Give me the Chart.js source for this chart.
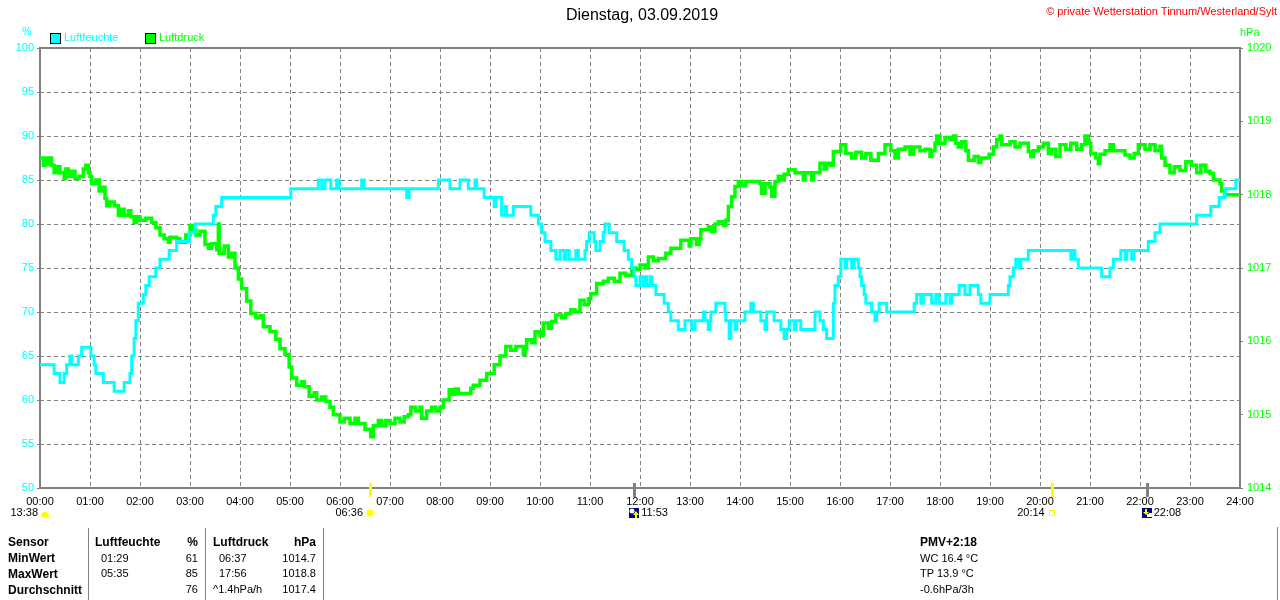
<!DOCTYPE html>
<html><head><meta charset="utf-8">
<script src="https://cdn.jsdelivr.net/npm/chart.js@4"></script>
<style>
body{margin:0;background:#fff;font-family:'Liberation Sans',Arial,sans-serif;}
#wrap{position:relative;width:1280px;height:600px;overflow:hidden;background:#fff;}
canvas{position:absolute;left:0;top:0;}
.t{position:absolute;white-space:nowrap;font-size:11px;line-height:13px;color:#000;}
.b{font-weight:bold;font-size:12px;line-height:14px;}
.r{text-align:right;}
.vl{position:absolute;width:1px;background:#808080;}
.box{position:absolute;width:9px;height:9px;border:1px solid #000;}
</style></head>
<body><div id="wrap">
<canvas id="c" width="1280" height="600"></canvas>
<div class="t" style="left:0;width:1284px;top:6px;text-align:center;font-size:16px;line-height:18px;">Dienstag, 03.09.2019</div>
<div class="t" style="right:3px;top:5px;color:#ff0000;">© private Wetterstation Tinnum/Westerland/Sylt</div>
<div class="t" style="left:22px;top:25px;color:#00ffff;">%</div>
<div class="t" style="left:1240px;top:26px;color:#00ff00;">hPa</div>
<div class="box" style="left:50px;top:33px;background:#00ffff;"></div>
<div class="t" style="left:64px;top:31px;color:#00ffff;">Luftfeuchte</div>
<div class="box" style="left:145px;top:33px;background:#00ff00;"></div>
<div class="t" style="left:159px;top:31px;color:#00ff00;">Luftdruck</div>

<div class="vl" style="left:88px;top:528px;height:72px;"></div>
<div class="vl" style="left:205px;top:528px;height:72px;"></div>
<div class="vl" style="left:323px;top:528px;height:72px;"></div>
<div class="vl" style="left:1277px;top:527px;height:73px;"></div>

<div class="t b" style="left:8px;top:535px;">Sensor</div>
<div class="t b" style="left:8px;top:551px;">MinWert</div>
<div class="t b" style="left:8px;top:567px;">MaxWert</div>
<div class="t b" style="left:8px;top:583px;">Durchschnitt</div>

<div class="t b" style="left:95px;top:535px;">Luftfeuchte</div>
<div class="t b r" style="left:160px;width:38px;top:535px;">%</div>
<div class="t" style="left:101px;top:552px;">01:29</div>
<div class="t r" style="left:160px;width:38px;top:552px;">61</div>
<div class="t" style="left:101px;top:567px;">05:35</div>
<div class="t r" style="left:160px;width:38px;top:567px;">85</div>
<div class="t r" style="left:160px;width:38px;top:583px;">76</div>

<div class="t b" style="left:213px;top:535px;">Luftdruck</div>
<div class="t b r" style="left:270px;width:46px;top:535px;">hPa</div>
<div class="t" style="left:219px;top:552px;">06:37</div>
<div class="t r" style="left:270px;width:46px;top:552px;">1014.7</div>
<div class="t" style="left:219px;top:567px;">17:56</div>
<div class="t r" style="left:270px;width:46px;top:567px;">1018.8</div>
<div class="t" style="left:213px;top:583px;">^1.4hPa/h</div>
<div class="t r" style="left:270px;width:46px;top:583px;">1017.4</div>

<div class="t b" style="left:920px;top:535px;">PMV+2:18</div>
<div class="t" style="left:920px;top:552px;">WC 16.4 °C</div>
<div class="t" style="left:920px;top:567px;">TP 13.9 °C</div>
<div class="t" style="left:920px;top:583px;">-0.6hPa/3h</div>
</div>
<script>
// Time in minutes since 00:00, humidity in %
const humMinutes = [0,17,24,29,32,36,38,46,50,61,65,67,76,89,101,108,110,113,115,118,124,127,131,139,144,155,164,179,186,208,211,218,301,334,338,342,349,356,359,386,389,440,443,478,492,504,514,522,524,533,545,547,554,558,560,568,589,598,602,606,613,619,624,629,631,635,643,646,654,656,659,665,667,672,676,678,683,692,701,706,710,713,715,720,724,726,728,732,734,739,749,754,757,766,774,782,786,796,798,802,804,805,811,822,823,827,829,834,836,846,853,856,865,870,872,881,889,893,896,899,905,907,913,930,936,940,944,952,954,958,961,966,968,974,977,982,984,986,989,991,998,1002,1004,1007,1016,1049,1052,1057,1060,1070,1075,1079,1087,1092,1094,1103,1110,1116,1126,1129,1140,1162,1164,1168,1171,1175,1177,1186,1237,1240,1242,1246,1274,1284,1288,1297,1302,1304,1310,1313,1330,1338,1344,1388,1405,1415,1422,1435,1440];
const humValues = [64,63,62,63,64,65,64,65,66,65,64,63,62,61,62,63,65,67,69,71,72,73,74,75,76,77,78,79,80,81,82,83,84,85,84,85,84,85,84,85,84,83,84,85,84,85,84,85,84,83,82,83,81,82,81,82,81,80,79,78,77,76,77,76,77,76,77,76,77,78,79,78,77,78,79,80,79,78,77,76,75,74,73,74,73,74,73,74,73,72,71,70,69,68,69,68,69,70,69,68,69,70,71,70,69,67,69,68,69,70,71,70,69,68,70,69,68,67,68,69,68,69,68,70,69,68,67,71,73,74,76,75,76,75,76,75,74,73,72,71,70,69,70,71,70,71,72,71,72,71,72,71,72,71,72,73,72,73,72,71,72,73,74,75,76,75,76,77,76,77,76,75,74,75,76,77,76,77,76,77,78,79,80,81,82,83,84,85,85];

// Time in minutes since 00:00, air pressure in hPa
const presMinutes = [0,4,6,10,12,14,17,20,24,29,31,34,38,42,47,52,55,58,60,62,67,71,74,78,80,84,89,94,97,101,106,109,113,116,120,127,134,139,144,149,154,156,164,168,175,180,184,187,192,198,202,206,212,214,215,221,226,230,234,238,242,248,253,259,264,268,276,283,288,294,299,302,308,314,317,323,329,332,338,343,348,352,360,365,372,378,382,390,397,400,406,410,415,420,426,432,437,442,445,451,456,458,464,470,475,480,484,491,494,498,502,517,520,528,536,545,552,559,565,571,580,582,584,590,594,600,604,610,614,619,626,631,637,642,648,653,658,661,668,676,682,689,696,703,710,715,720,726,730,736,742,751,757,769,779,781,788,791,793,802,806,810,814,820,823,826,830,834,838,842,847,864,866,870,876,878,882,886,889,893,898,906,916,918,926,928,936,941,944,949,952,961,967,974,979,986,991,997,1006,1014,1021,1026,1030,1038,1044,1048,1056,1062,1068,1070,1074,1076,1080,1086,1092,1096,1099,1102,1106,1111,1114,1121,1126,1129,1139,1144,1148,1152,1154,1164,1170,1176,1186,1189,1192,1198,1204,1210,1214,1219,1224,1231,1237,1244,1250,1254,1258,1261,1267,1270,1272,1278,1284,1288,1302,1308,1313,1318,1326,1332,1338,1344,1346,1350,1356,1361,1368,1375,1382,1388,1393,1399,1404,1408,1416,1418,1422,1440];
const presValues = [1018.5,1018.4,1018.5,1018.42,1018.5,1018.4,1018.3,1018.38,1018.3,1018.22,1018.35,1018.25,1018.32,1018.22,1018.25,1018.35,1018.4,1018.3,1018.25,1018.15,1018.2,1018.05,1018.1,1017.95,1017.85,1017.9,1017.85,1017.72,1017.8,1017.72,1017.78,1017.7,1017.62,1017.7,1017.65,1017.68,1017.62,1017.55,1017.45,1017.4,1017.35,1017.42,1017.4,1017.35,1017.45,1017.58,1017.52,1017.45,1017.5,1017.32,1017.27,1017.33,1017.25,1017.6,1017.2,1017.3,1017.15,1017.2,1017.0,1016.85,1016.72,1016.55,1016.38,1016.32,1016.35,1016.2,1016.13,1016.03,1015.9,1015.82,1015.65,1015.5,1015.4,1015.45,1015.38,1015.25,1015.3,1015.2,1015.24,1015.18,1015.1,1015.0,1014.9,1014.95,1014.88,1014.95,1014.88,1014.8,1014.7,1014.85,1014.92,1014.85,1014.92,1014.88,1014.95,1014.9,1014.97,1015.0,1015.1,1015.05,1015.1,1014.95,1015.05,1015.1,1015.05,1015.1,1015.2,1015.34,1015.28,1015.35,1015.29,1015.36,1015.4,1015.47,1015.56,1015.68,1015.8,1015.93,1015.88,1015.93,1015.82,1015.9,1016.02,1015.98,1016.13,1016.08,1016.25,1016.18,1016.27,1016.36,1016.32,1016.38,1016.43,1016.4,1016.56,1016.5,1016.58,1016.65,1016.79,1016.82,1016.86,1016.82,1016.93,1016.9,1017.0,1016.98,1017.04,1017.0,1017.15,1017.1,1017.13,1017.2,1017.27,1017.38,1017.3,1017.4,1017.32,1017.4,1017.52,1017.56,1017.5,1017.6,1017.63,1017.58,1017.65,1017.84,1017.97,1018.11,1018.18,1018.12,1018.18,1018.15,1018.02,1018.15,1018.1,1017.98,1018.18,1018.25,1018.2,1018.28,1018.34,1018.3,1018.2,1018.3,1018.2,1018.3,1018.43,1018.35,1018.43,1018.4,1018.59,1018.68,1018.56,1018.5,1018.58,1018.5,1018.56,1018.47,1018.56,1018.68,1018.6,1018.5,1018.62,1018.65,1018.55,1018.65,1018.6,1018.62,1018.52,1018.6,1018.7,1018.8,1018.7,1018.78,1018.75,1018.8,1018.7,1018.65,1018.72,1018.6,1018.47,1018.52,1018.44,1018.5,1018.55,1018.65,1018.75,1018.8,1018.68,1018.72,1018.65,1018.7,1018.59,1018.52,1018.6,1018.65,1018.7,1018.56,1018.62,1018.52,1018.68,1018.62,1018.7,1018.62,1018.68,1018.8,1018.7,1018.56,1018.5,1018.42,1018.55,1018.6,1018.68,1018.6,1018.54,1018.5,1018.56,1018.68,1018.62,1018.68,1018.6,1018.66,1018.5,1018.4,1018.3,1018.38,1018.33,1018.45,1018.4,1018.3,1018.4,1018.32,1018.29,1018.2,1018.15,1018.05,1018.0,1018.0];

// Sun / moon events below the time axis
const markerMinutes = [396, 713, 1214, 1328];
const markerLabels = ['06:36', '11:53', '20:14', '22:08'];
const markerKinds = ['sunrise', 'moonrise', 'sunset', 'moonset'];
const dayLengthLabel = '13:38';

const humData = humMinutes.map((m, i) => ({x: m, y: humValues[i]}));
const presData = presMinutes.map((m, i) => ({x: m, y: presValues[i]}));

const FONT = "'Liberation Sans', Arial, sans-serif";

const framePlugin = {
  id: 'frame',
  beforeDatasetsDraw(chart) {
    const a = chart.chartArea, ctx = chart.ctx;
    ctx.save();
    ctx.strokeStyle = '#808080';
    ctx.lineWidth = 2;
    ctx.strokeRect(a.left, a.top, a.right - a.left, a.bottom - a.top);
    ctx.restore();
  }
};

function drawSun(ctx, cx, cy) {
  ctx.strokeStyle = '#ffff99';
  ctx.lineWidth = 1;
  for (let k = 0; k < 8; k++) {
    const an = k * Math.PI / 4;
    ctx.beginPath();
    ctx.moveTo(cx + Math.cos(an) * 3.5, cy + Math.sin(an) * 3.5);
    ctx.lineTo(cx + Math.cos(an) * 5.5, cy + Math.sin(an) * 5.5);
    ctx.stroke();
  }
  ctx.fillStyle = '#ffff00';
  ctx.beginPath(); ctx.arc(cx, cy, 3.5, 0, Math.PI * 2); ctx.fill();
}
function drawMoon(ctx, x, y, up) {
  ctx.fillStyle = '#000080';
  ctx.fillRect(x, y, 10, 10);
  ctx.fillStyle = '#ffffff';
  if (up) { ctx.beginPath(); ctx.arc(x + 3, y + 3, 2.5, 0, Math.PI * 2); ctx.fill(); }
  else { ctx.fillRect(x + 5, y + 6, 4, 3); ctx.fillRect(x + 7, y + 5, 3, 4); }
  ctx.fillStyle = '#ffff00';
  ctx.beginPath();
  if (up) {
    ctx.moveTo(x + 7, y + 3); ctx.lineTo(x + 10, y + 7); ctx.lineTo(x + 4, y + 7); ctx.closePath(); ctx.fill();
    ctx.fillRect(x + 6, y + 7, 2, 3);
  } else {
    ctx.fillRect(x + 3, y + 1, 2, 3);
    ctx.moveTo(x + 4, y + 7); ctx.lineTo(x + 7, y + 4); ctx.lineTo(x + 1, y + 4); ctx.closePath(); ctx.fill();
  }
}

const markerPlugin = {
  id: 'markers',
  afterDraw(chart) {
    const ctx = chart.ctx, xs = chart.scales.x, bottom = chart.chartArea.bottom;
    ctx.save();
    ctx.font = '11px ' + FONT;
    ctx.textBaseline = 'middle';
    const ly = bottom + 25;
    const p0 = xs.getPixelForValue(0);
    ctx.fillStyle = '#000';
    ctx.textAlign = 'right';
    ctx.fillText(dayLengthLabel, p0 - 2, ly);
    ctx.fillStyle = '#ffff00';
    ctx.beginPath(); ctx.arc(p0 + 5, ly + 3, 4, Math.PI, 0); ctx.closePath(); ctx.fill();
    ctx.fillRect(p0 + 1, ly + 2, 8, 2);

    markerMinutes.forEach((m, i) => {
      const px = xs.getPixelForValue(m);
      const kind = markerKinds[i];
      const sun = kind.startsWith('sun');
      ctx.fillStyle = sun ? '#ffff00' : '#808080';
      ctx.fillRect(Math.round(px) - 1, bottom - 5, 3, 14);
      ctx.fillStyle = '#000';
      if (kind === 'sunrise') {
        ctx.textAlign = 'right';
        ctx.fillText(markerLabels[i], px - 7, ly);
        drawSun(ctx, px, ly);
      } else if (kind === 'sunset') {
        ctx.textAlign = 'right';
        ctx.fillText(markerLabels[i], px - 7, ly);
        ctx.strokeStyle = '#ffff00'; ctx.lineWidth = 1;
        ctx.strokeRect(Math.round(px) - 2.5, ly - 2.5, 5, 5);
      } else {
        ctx.textAlign = 'left';
        ctx.fillText(markerLabels[i], px + 7, ly);
        drawMoon(ctx, Math.round(px) - 5, ly - 5, kind === 'moonrise');
      }
    });
    ctx.restore();
  }
};

new Chart(document.getElementById('c'), {
  type: 'line',
  data: {
    datasets: [
      {label: 'Luftfeuchte', data: humData, yAxisID: 'y', borderColor: '#00ffff', backgroundColor: '#00ffff', borderWidth: 3, pointRadius: 0, stepped: true, fill: false},
      {label: 'Luftdruck', data: presData, yAxisID: 'y2', borderColor: '#00ff00', backgroundColor: '#00ff00', borderWidth: 3.5, pointRadius: 0, stepped: true, fill: false}
    ]
  },
  options: {
    responsive: false,
    animation: false,
    events: [],
    layout: {padding: {top: 48, left: 0, right: 0, bottom: 0}},
    plugins: {legend: {display: false}, title: {display: false}, tooltip: {enabled: false}},
    scales: {
      x: {
        type: 'linear', min: 0, max: 1440,
        afterFit(s) { s.height = 112; },
        ticks: {stepSize: 60, autoSkip: false, maxRotation: 0, color: '#000', font: {family: FONT, size: 11}, padding: 7,
          callback: v => String(v / 60).padStart(2, '0') + ':00'},
        grid: {color: '#808080', lineWidth: 1, drawTicks: false},
        border: {display: false, dash: [4, 3]}
      },
      y: {
        position: 'left', min: 50, max: 100,
        afterFit(s) { s.width = 40; },
        ticks: {stepSize: 5, color: '#00ffff', font: {family: FONT, size: 11}, padding: 3, callback: v => String(v)},
        grid: {color: '#808080', lineWidth: 1, drawTicks: true, tickLength: 3, tickBorderDash: []},
        border: {display: false, dash: [4, 3]}
      },
      y2: {
        position: 'right', min: 1014, max: 1020,
        afterFit(s) { s.width = 40; },
        ticks: {stepSize: 1, color: '#00ff00', font: {family: FONT, size: 11}, padding: 4, callback: v => String(v)},
        grid: {drawOnChartArea: false, color: '#808080', drawTicks: true, tickLength: 3},
        border: {display: false}
      }
    }
  },
  plugins: [framePlugin, markerPlugin]
});
</script>
</body></html>
